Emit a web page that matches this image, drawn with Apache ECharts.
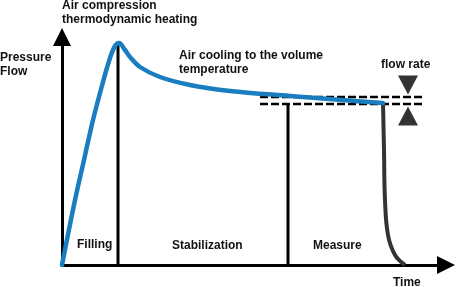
<!DOCTYPE html>
<html>
<head>
<meta charset="utf-8">
<script src="https://cdn.jsdelivr.net/npm/echarts@6/dist/echarts.min.js"></script>
<style>html,body{margin:0;padding:0;background:#fff}#c{width:460px;height:287px}</style>
</head>
<body>
<div id="c"></div>
<script>
// Time (x) / pressure (y) readings, in chart units
const pressureCurve = [[0,0],[13,65],[22,105],[31,145],[41,183],[48,207],[53,219],[57,222],[63,215],[68,208],[78,198],[98,188],[128,180],[168,174],[228,169],[280,165],[321,162]];
const dropCurve = [[321,162],[322,115],[323,65],[326,30],[333,10],[343,0]];
const fillingEnd = [[56,222],[56,0]];
const measureStart = [[226,161],[226,0]];
const upperLimit = [[198,168],[363,168]];
const lowerLimit = [[198,161],[363,161]];
const arrowDown = [[346,180]];
const arrowUp = [[346,149]];
const xMax = 384, yMax = 228;

const chart = echarts.init(document.getElementById('c'));
const font = 'bold 12px "Liberation Sans", Arial, sans-serif';
function txt(x, y, t){
  return {type:'text', left:x, top:y, style:{text:t, font:font, fill:'#111', lineHeight:13.5}};
}
const blk = {color:'#000', width:3};
chart.setOption({
  animation:false,
  grid:{left:62, right:14, top:37, bottom:22},
  xAxis:{type:'value', min:0, max:xMax, axisLabel:{show:false}, axisTick:{show:false}, splitLine:{show:false},
    axisLine:{onZero:false, lineStyle:{color:'#000', width:3}, symbol:['none','triangle'], symbolSize:[18,18]}},
  yAxis:{type:'value', min:0, max:yMax, axisLabel:{show:false}, axisTick:{show:false}, splitLine:{show:false},
    axisLine:{show:true, onZero:false, lineStyle:{color:'#000', width:3}, symbol:['none','triangle'], symbolSize:[18,18]}},
  series:[
    {type:'line', data:fillingEnd, symbol:'none', lineStyle:blk, z:2},
    {type:'line', data:measureStart, symbol:'none', lineStyle:blk, z:2},
    {type:'line', data:upperLimit, symbol:'none', lineStyle:{color:'#000', width:2.5, type:[8,3]}, z:2},
    {type:'line', data:lowerLimit, symbol:'none', lineStyle:{color:'#000', width:2.5, type:[8,3]}, z:2},
    {type:'line', data:dropCurve, symbol:'none', smooth:0.4, lineStyle:{color:'#333', width:4}, z:3},
    {type:'line', data:pressureCurve, symbol:'none', smooth:0.35, lineStyle:{color:'#1a7dc0', width:4.5, cap:'round', join:'round'}, z:4},
    {type:'scatter', data:arrowDown, symbol:'triangle', symbolRotate:180, symbolSize:[20,19], itemStyle:{color:'#000'}, z:5},
    {type:'scatter', data:arrowUp, symbol:'triangle', symbolSize:[20,19], itemStyle:{color:'#000'}, z:5}
  ],
  graphic:[
    txt(62,-1,'Air compression\nthermodynamic heating'),
    txt(0,51,'Pressure\nFlow'),
    txt(179,49,'Air cooling to the volume\ntemperature'),
    txt(381,58,'flow rate'),
    txt(77,238,'Filling'),
    txt(172,239,'Stabilization'),
    txt(313,239,'Measure'),
    txt(393,276,'Time')
  ]
});
</script>
</body>
</html>
